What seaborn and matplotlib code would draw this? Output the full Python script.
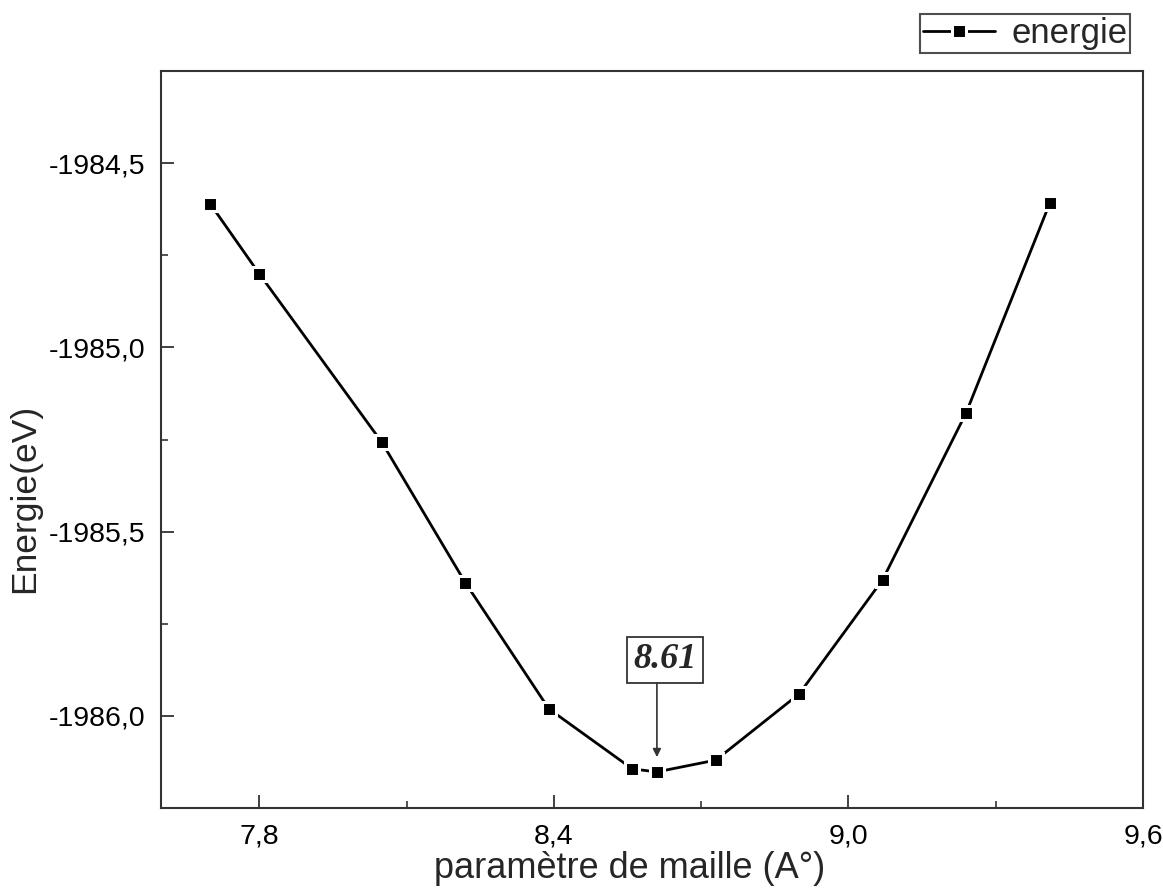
import matplotlib
matplotlib.use("Agg")
import matplotlib.pyplot as plt
import seaborn as sns
from matplotlib.ticker import MultipleLocator, AutoMinorLocator, FuncFormatter

# Lattice parameter (Å) and total energy (eV)
lattice = [7.70, 7.80, 8.05, 8.22, 8.39, 8.56, 8.61, 8.73, 8.90, 9.07, 9.24, 9.41]
energy = [-1984.61, -1984.80, -1985.258, -1985.639, -1985.981, -1986.144,
          -1986.152, -1986.12, -1985.94, -1985.63, -1985.177, -1984.609]
series_label = "energie"
optimum_label = "8.61"
optimum_x = 8.61
optimum_y = -1986.152

sns.set_theme(style="ticks")
plt.rcParams["font.family"] = ["Liberation Sans", "DejaVu Sans"]

fig = plt.figure(figsize=(11.63, 8.92), dpi=100)
ax = fig.add_axes([161 / 1163, 1 - 808 / 892, (1143 - 161) / 1163, (808 - 71) / 892])

sns.lineplot(x=lattice, y=energy, ax=ax, sort=False, color="black",
             linewidth=2.0, marker="s", markersize=9.5,
             markerfacecolor="black", markeredgecolor="white",
             markeredgewidth=2.2, label=series_label, legend=False)

ax.set_xlim(7.6, 9.6)
ax.set_ylim(-1986.25, -1984.25)

ax.xaxis.set_major_locator(MultipleLocator(0.6))
ax.xaxis.set_minor_locator(AutoMinorLocator(2))
ax.yaxis.set_major_locator(MultipleLocator(0.5))
ax.yaxis.set_minor_locator(AutoMinorLocator(2))

comma = FuncFormatter(lambda v, p: f"{v:.1f}".replace(".", ","))
ax.xaxis.set_major_formatter(comma)
ax.yaxis.set_major_formatter(comma)

for side in ("left", "bottom", "top", "right"):
    ax.spines[side].set_visible(True)
    ax.spines[side].set_linewidth(1.5)
    ax.spines[side].set_color("#333333")

ax.tick_params(which="major", direction="in", length=9.5, width=1.3,
               labelsize=20.5, pad=11, colors="#333333", labelcolor="black",
               top=False, right=False)
ax.tick_params(which="minor", direction="in", length=5, width=1.2,
               colors="#333333", top=False, right=False)

ax.set_xlabel("paramètre de maille (A°)", fontsize=26)
ax.set_ylabel("Energie(eV)", fontsize=25.5)
ax.xaxis.set_label_coords(0.477, -0.058)
ax.yaxis.set_label_coords(-0.122, 0.42)

# arrow pointing at the energy minimum, with its value boxed above
ax.annotate("", xy=(optimum_x, optimum_y + 0.04), xytext=(optimum_x, -1985.902),
            arrowprops=dict(arrowstyle="-|>", color="#333333", lw=1.2,
                            mutation_scale=12, shrinkA=0, shrinkB=0))
ax.text(optimum_x + 0.016, -1985.848, optimum_label, ha="center", va="center",
        fontsize=26, fontweight="bold", fontstyle="italic",
        family=["Liberation Serif", "DejaVu Serif"],
        bbox=dict(boxstyle="square,pad=0.18", fc="white", ec="#333333", lw=1.3))

handles, labels = ax.get_legend_handles_labels()
leg = fig.legend(handles, labels, loc="upper right",
                 bbox_to_anchor=(1130 / 1163, 1 - 14 / 892),
                 fontsize=25, frameon=True, fancybox=False,
                 handlelength=2.1, handletextpad=0.45, borderpad=0.08,
                 borderaxespad=0)
leg.get_frame().set_edgecolor("#222222")
leg.get_frame().set_linewidth(1.5)

fig.savefig("out.png", dpi=100)
